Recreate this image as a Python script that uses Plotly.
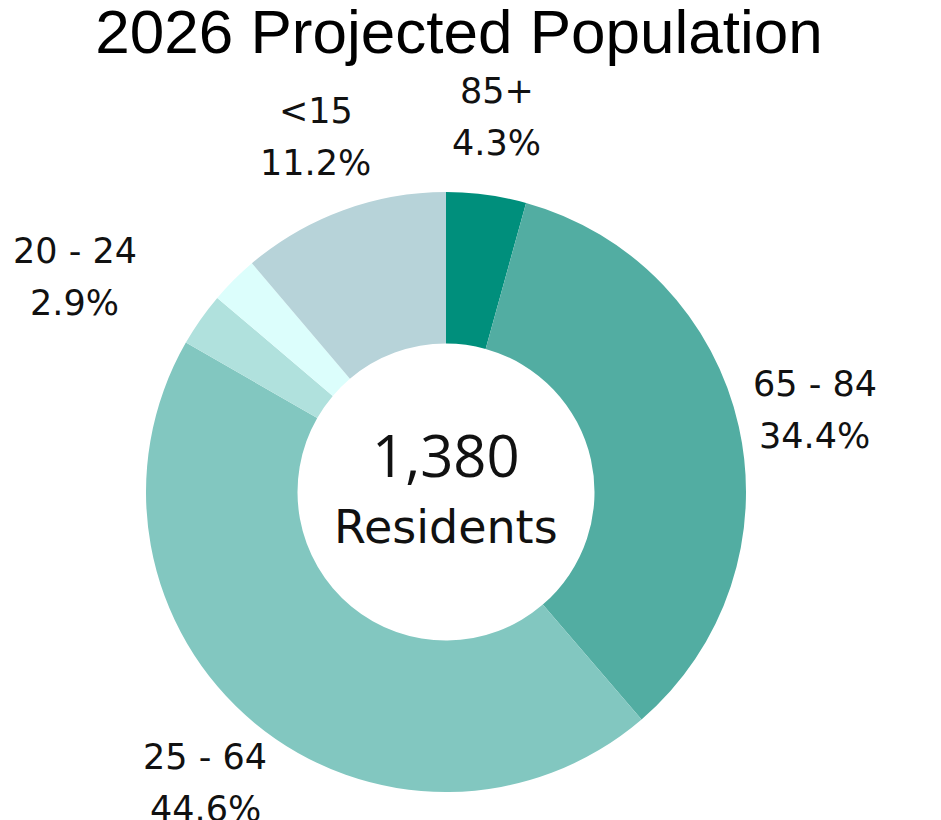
import math
import plotly.graph_objects as go

labels = ["85+", "65 - 84", "25 - 64", "20 - 24", "15 - 19", "<15"]
shares = [4.3, 34.4, 44.6, 2.9, 2.6, 11.2]
show_label = [True, True, True, True, False, True]
colors = ["#008f7c", "#52ada2", "#82c7c0", "#b0e1dd", "#dcfefc", "#b7d3d9"]
total_residents = 1380
title_text = "2026 Projected Population"

# styling for label placement (distance from centre as a multiple of the radius,
# and a small angular nudge in degrees to keep crowded labels apart)
label_radius = [1.26, 1.26, 1.26, 1.43, 1.26, 1.26]
label_nudge_deg = [0, 0, 0, -5, 0, 0]

W, H = 941, 820
M = dict(l=0, r=65, t=184, b=36)
plot_w = W - M["l"] - M["r"]
plot_h = H - M["t"] - M["b"]
R = min(plot_w, plot_h) / 2

fig = go.Figure(go.Pie(
    labels=labels,
    values=shares,
    textinfo="none",
    sort=False,
    direction="clockwise",
    rotation=0,
    hole=0.495,
    marker=dict(colors=colors, line=dict(width=0)),
    showlegend=False,
))

label_font = dict(family="DejaVu Sans", size=35, color="#111111")
annotations = []
total = sum(shares)
cum = 0.0
for lab, v, s, rf, nd in zip(labels, shares, show_label, label_radius, label_nudge_deg):
    mid = (cum + v / 2) / total * 2 * math.pi + math.radians(nd)
    cum += v
    if not s:
        continue
    x = 0.5 + rf * R * math.sin(mid) / plot_w
    y = 0.5 + rf * R * math.cos(mid) / plot_h
    annotations.append(dict(text=lab, x=x, y=y, xref="paper", yref="paper", yshift=26,
                            showarrow=False, font=label_font, xanchor="center", yanchor="middle"))
    annotations.append(dict(text=f"{v:.1f}%", x=x, y=y, xref="paper", yref="paper", yshift=-26,
                            showarrow=False, font=label_font, xanchor="center", yanchor="middle"))

annotations += [
    dict(text=f"{total_residents:,}", x=0.5, y=0.5, xref="paper", yref="paper",
         yshift=38, showarrow=False, font=dict(family="Open Sans", size=58, color="#111111")),
    dict(text="Residents", x=0.5, y=0.5, xref="paper", yref="paper",
         yshift=-35, showarrow=False, font=dict(family="DejaVu Sans", size=46, color="#111111")),
]

fig.update_layout(
    width=W, height=H,
    margin=M,
    paper_bgcolor="white",
    title=dict(text=title_text, x=451/941, xanchor="center", y=1 - 23/820, yanchor="middle",
               xref="container", yref="container",
               font=dict(family="Liberation Sans", size=62, color="#000000")),
    annotations=annotations,
)

fig.write_html("out.html")
